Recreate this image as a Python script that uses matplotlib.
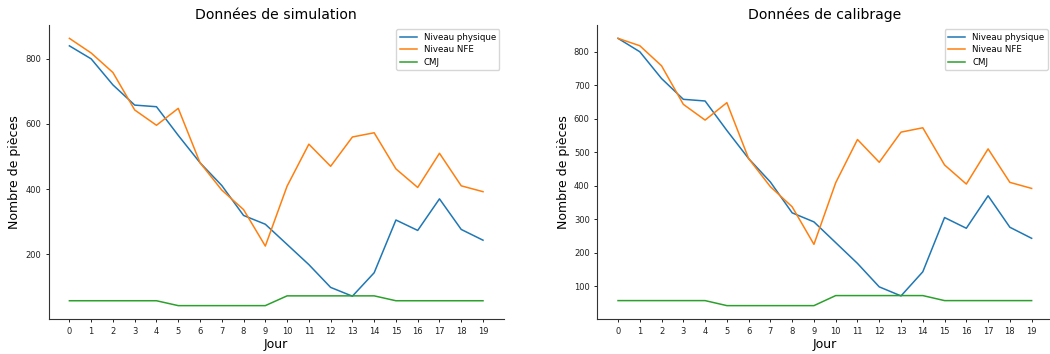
import numpy as np
import matplotlib.pyplot as plt
from matplotlib.ticker import MultipleLocator

# Données
jours = list(range(20))

niveau_physique = [840, 800, 720, 658, 653, 565, 481, 411, 319, 292,
                   230, 168, 98, 71, 143, 305, 273, 370, 276, 243]

nfe_simulation = [863, 818, 758, 643, 596, 648, 481, 397, 337, 225,
                  409, 538, 470, 560, 573, 462, 405, 510, 410, 392]
nfe_calibrage = [840, 818, 758, 643, 596, 648, 481, 397, 337, 225,
                 409, 538, 470, 560, 573, 462, 405, 510, 410, 392]

cmj = [57, 57, 57, 57, 57, 42, 42, 42, 42, 42,
       72, 72, 72, 72, 72, 57, 57, 57, 57, 57]

titres = ["Données de simulation", "Données de calibrage"]
pas_y = [200, 100]

plt.rcParams['lines.linewidth'] = 1.1
plt.rcParams['axes.edgecolor'] = '#333333'

fig = plt.figure(figsize=(10.5, 3.54), dpi=100)
ax1 = fig.add_axes([0.0464, 0.0989, 0.4333, 0.8305])
ax2 = fig.add_axes([0.5689, 0.0989, 0.4333, 0.8305])

for ax, nfe, titre, pas in zip([ax1, ax2], [nfe_simulation, nfe_calibrage], titres, pas_y):
    ax.plot(jours, niveau_physique, color='tab:blue', label="Niveau physique")
    ax.plot(jours, nfe, color='tab:orange', label="Niveau NFE")
    ax.plot(jours, cmj, color='tab:green', label="CMJ")
    ax.set_title(titre, fontsize=10.1, pad=4)
    ax.set_xlabel("Jour", fontsize=9, labelpad=2)
    ax.set_ylabel("Nombre de pièces", fontsize=9, labelpad=3)
    ax.set_xticks(jours)
    ax.yaxis.set_major_locator(MultipleLocator(pas))
    ax.tick_params(labelsize=6, length=2.5, width=0.7, pad=3, colors='#222222')
    ax.spines['top'].set_visible(False)
    ax.spines['right'].set_visible(False)
    ax.legend(loc='upper right', fontsize=6.2, labelspacing=0.4)

plt.savefig('out.png', dpi=100)
